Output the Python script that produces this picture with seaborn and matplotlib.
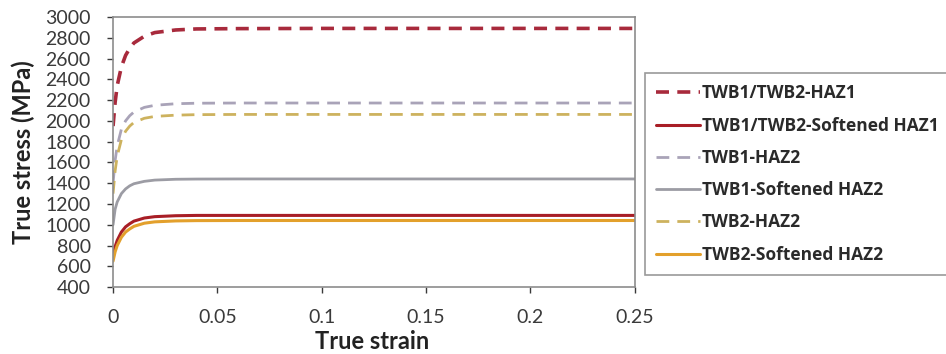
import matplotlib
matplotlib.use("Agg")
import matplotlib.pyplot as plt
import seaborn as sns
import pandas as pd

# True strain sample points shared by all flow curves
strain = [0, 0.001, 0.002, 0.004, 0.006, 0.008, 0.01, 0.015, 0.02, 0.03,
          0.04, 0.06, 0.1, 0.15, 0.2, 0.25]

# True stress (MPa) for each material zone
haz1 = [1950, 2180, 2340, 2520, 2630, 2700, 2750, 2815, 2850, 2875,
        2885, 2888, 2890, 2890, 2890, 2890]
soft_haz1 = [700, 790, 850, 930, 980, 1010, 1035, 1065, 1078, 1087,
             1090, 1090, 1090, 1090, 1090, 1090]
twb1_haz2 = [1400, 1620, 1760, 1920, 2000, 2050, 2085, 2130, 2150, 2165,
             2170, 2172, 2172, 2172, 2172, 2172]
twb1_soft_haz2 = [1000, 1150, 1220, 1300, 1345, 1375, 1395, 1418, 1430, 1438,
                  1440, 1441, 1441, 1441, 1441, 1441]
twb2_haz2 = [1300, 1520, 1660, 1820, 1900, 1950, 1985, 2025, 2043, 2055,
             2060, 2062, 2062, 2062, 2062, 2062]
twb2_soft_haz2 = [650, 740, 800, 880, 930, 960, 985, 1015, 1028, 1037,
                  1040, 1041, 1041, 1041, 1041, 1041]

labels = ["TWB1/TWB2-HAZ1", "TWB1/TWB2-Softened HAZ1", "TWB1-HAZ2",
          "TWB1-Softened HAZ2", "TWB2-HAZ2", "TWB2-Softened HAZ2"]
series = [haz1, soft_haz1, twb1_haz2, twb1_soft_haz2, twb2_haz2, twb2_soft_haz2]
colors = ["#a82a3c", "#a81e26", "#a9a3b8", "#9c9ca4", "#cdb25e", "#e3a02c"]
styles = [(0, (3.6, 2.3)), "-", (0, (4.6, 2.9)), "-", (0, (4.6, 2.9)), "-"]
widths = [2.6, 2.2, 2.0, 2.0, 2.0, 2.2]

sns.set_theme(style="white")
plt.rcParams["font.family"] = ["Lato", "DejaVu Sans"]

fig = plt.figure(figsize=(9.46, 3.54), dpi=100)
ax = fig.add_axes([0.1195, 0.189, 0.5515, 0.763])

for lab, vals, c, ls, lw in zip(labels, series, colors, styles, widths):
    df = pd.DataFrame({"strain": strain, "stress": vals})
    sns.lineplot(data=df, x="strain", y="stress", ax=ax, color=c,
                 linestyle=ls, linewidth=lw, label=lab)

ax.set_xlim(0, 0.25)
ax.set_ylim(400, 3000)
ax.set_xticks([0, 0.05, 0.1, 0.15, 0.2, 0.25])
ax.set_xticklabels(["0", "0.05", "0.1", "0.15", "0.2", "0.25"])
ax.set_yticks(range(400, 3001, 200))
ax.tick_params(axis="both", labelsize=14, colors="#3a3a3a", length=4,
               width=1, direction="out", bottom=True, left=True)
ax.tick_params(axis="x", pad=12)
ax.tick_params(axis="y", pad=12)

for s in ax.spines.values():
    s.set_color("#8c8c8c")
    s.set_linewidth(1.2)

ax.set_xlabel("True strain", fontsize=17, fontweight="bold", color="#222222")
ax.set_ylabel("True stress (MPa)", fontsize=17, fontweight="bold", color="#222222")
ax.xaxis.set_label_coords(0.496, -0.2)
ax.yaxis.set_label_coords(-0.172, 0.5)
ax.xaxis.label.set_va("center")
ax.yaxis.label.set_va("center")

leg = ax.legend(loc="upper left", bbox_to_anchor=(645 / 946, 1 - 73 / 354),
                bbox_transform=fig.transFigure, frameon=True, fancybox=False,
                prop={"family": "Open Sans", "size": 12.5, "weight": "bold"},
                labelspacing=0.82, handlelength=2.5, handletextpad=0.12,
                borderpad=0.66, borderaxespad=0)
leg.get_frame().set_edgecolor("#808080")
leg.get_frame().set_linewidth(1.2)
for t in leg.get_texts():
    t.set_color("#2a2a2a")

fig.savefig("out.png", dpi=100)
